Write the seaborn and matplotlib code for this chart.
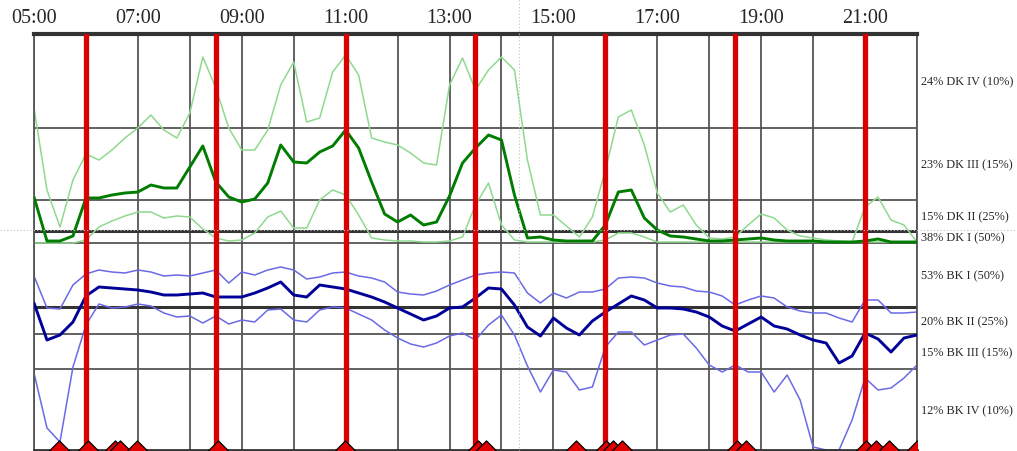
import numpy as np
import matplotlib
matplotlib.use("Agg")
import matplotlib.pyplot as plt
import seaborn as sns
from matplotlib.lines import Line2D

# time grid (hours of day, 15-minute steps from 05:00 to 22:00)
hours = np.arange(5, 22.01, 0.25)

# DK group: upper band, mean, lower band (level units, 0 = bottom of chart)
dk_upper = [342, 260, 223, 270, 296, 290, 300, 312, 322, 335,
            320, 312, 337, 393, 362, 322, 300, 300, 320, 365,
            388, 328, 332, 378, 395, 375, 312, 308, 305, 297,
            287, 285, 365, 392, 360, 380, 393, 380, 290, 235,
            235, 224, 213, 233, 280, 333, 340, 305, 257, 238,
            245, 225, 212, 211, 213, 225, 236, 232, 220, 214,
            212, 210, 209, 208, 243, 253, 230, 225, 208]
dk_mid = [253, 209, 209, 214, 252, 252, 255, 257, 258, 265,
          262, 262, 283, 304, 268, 253, 248, 251, 267, 305,
          288, 287, 298, 304, 320, 302, 268, 236, 228, 235,
          225, 228, 254, 287, 302, 315, 310, 255, 212, 213,
          210, 209, 209, 209, 225, 258, 260, 232, 220, 214,
          213, 211, 209, 209, 210, 211, 212, 210, 209, 209,
          209, 208, 208, 208, 209, 211, 208, 208, 208]
dk_lower = [207, 207, 207, 207, 210, 223, 229, 234, 238, 238,
            232, 234, 233, 221, 212, 209, 210, 217, 233, 239,
            222, 222, 250, 260, 255, 235, 212, 210, 209, 209,
            208, 208, 209, 213, 245, 267, 225, 210, 208, 208,
            208, 208, 208, 208, 210, 217, 217, 213, 208, 208,
            208, 208, 208, 208, 208, 208, 208, 208, 208, 208,
            208, 208, 208, 208, 208, 208, 208, 208, 208]

# BK group
bk_upper = [174, 142, 141, 165, 176, 180, 178, 177, 180, 178,
            174, 175, 174, 177, 180, 167, 178, 175, 180, 183,
            180, 171, 173, 177, 178, 174, 172, 168, 158, 156,
            155, 159, 165, 170, 175, 177, 178, 177, 157, 147,
            157, 152, 158, 158, 161, 172, 173, 172, 167, 164,
            163, 159, 158, 154, 145, 150, 154, 152, 143, 139,
            137, 137, 132, 128, 150, 150, 137, 137, 138]
bk_mid = [147, 110, 115, 128, 154, 163, 162, 161, 160, 158,
          155, 155, 156, 157, 153, 153, 153, 157, 162, 168,
          155, 153, 165, 163, 161, 157, 153, 148, 142, 136,
          130, 134, 142, 143, 152, 162, 161, 145, 123, 114,
          132, 122, 115, 129, 138, 146, 154, 150, 142, 142,
          141, 138, 133, 124, 119, 126, 133, 124, 121, 115,
          110, 107, 87, 94, 117, 111, 98, 112, 115]
bk_lower = [77, 22, 8, 83, 125, 146, 142, 143, 146, 144,
            137, 133, 134, 127, 134, 126, 130, 128, 140, 141,
            130, 128, 140, 143, 142, 136, 130, 120, 112, 106,
            103, 107, 114, 117, 110, 125, 135, 115, 84, 58,
            80, 78, 60, 63, 103, 118, 118, 105, 110, 115,
            116, 102, 85, 78, 85, 78, 78, 58, 75, 50,
            3, 0, 0, 30, 72, 60, 62, 72, 85]

# band boundaries and labels (bottom to top)
band_edges = [0, 81, 116, 143, 207, 219, 250, 322, 416]
band_labels = ["12% BK IV (10%)", "15% BK III (15%)", "20% BK II (25%)", "53% BK I (50%)",
               "38% DK I (50%)", "15% DK II (25%)", "23% DK III (15%)", "24% DK IV (10%)"]
thick_edges = [143, 219]

shift_hours = [6, 8.5, 11, 13.5, 16, 18.5, 21]
event_hours = [5.48, 6.04, 6.56, 6.66, 6.98, 8.54, 10.99, 13.55, 13.70, 15.43,
               16.01, 16.15, 16.32, 18.53, 18.71, 21.02, 21.21, 21.46, 22.0]

sns.set_style("white")
plt.rcParams['font.family'] = ['Liberation Serif', 'DejaVu Serif']

fig = plt.figure(figsize=(10.17, 4.51), dpi=100)
ax = fig.add_axes([34 / 1017, 1 / 451, 883 / 1017, 416 / 451])

# grid
for h in range(5, 23):
    ax.axvline(h, color='#555555', lw=1.3, zorder=1)
for e in band_edges[1:-1]:
    if e in thick_edges:
        ax.axhline(e, color='#333333', lw=2.2, zorder=1)
    else:
        ax.axhline(e, color='#555555', lw=1.3, zorder=1)

# series
light_green = '#8fd98f'
dark_green = '#007d00'
light_blue = '#6a6ae6'
dark_blue = '#000099'
sns.lineplot(x=hours, y=dk_upper, color=light_green, lw=1.1, ax=ax, zorder=2)
sns.lineplot(x=hours, y=dk_lower, color=light_green, lw=1.1, ax=ax, zorder=2)
sns.lineplot(x=hours, y=dk_mid, color=dark_green, lw=2.1, ax=ax, zorder=3)
sns.lineplot(x=hours, y=bk_upper, color=light_blue, lw=1.1, ax=ax, zorder=2)
sns.lineplot(x=hours, y=bk_lower, color=light_blue, lw=1.1, ax=ax, zorder=2)
sns.lineplot(x=hours, y=bk_mid, color=dark_blue, lw=2.1, ax=ax, zorder=3)

# shift change lines
for h in shift_hours:
    ax.axvline(h, color='#d80000', lw=3.8, zorder=5)

# event markers along the bottom edge
sns.scatterplot(x=event_hours, y=[0] * len(event_hours), marker='D', s=95,
                color='#e00000', edgecolor='black', linewidth=0.9, zorder=6, ax=ax)

ax.set_xlim(5, 22)
ax.set_ylim(0, 416)

ax.xaxis.tick_top()
ax.set_xticks(range(5, 22, 2))
ax.set_xticklabels([f"{h:02d}:00" for h in range(5, 22, 2)], fontsize=14.5)
ax.tick_params(axis='x', length=0, pad=4)

centers = [(band_edges[i] + band_edges[i + 1]) / 2 for i in range(len(band_labels))]
ax.yaxis.tick_right()
ax.set_yticks(centers)
ax.set_yticklabels(band_labels, fontsize=8.8)
ax.tick_params(axis='y', length=0, pad=3)
ax.set_xlabel('')
ax.set_ylabel('')

for side in ['left', 'right']:
    ax.spines[side].set_color('#555555')
    ax.spines[side].set_linewidth(1.3)
ax.spines['top'].set_color('#333333')
ax.spines['top'].set_linewidth(3)
ax.spines['bottom'].set_color('#333333')
ax.spines['bottom'].set_linewidth(2)

# faint dotted crosshair
fig.add_artist(Line2D([0, 1], [1 - 230 / 451] * 2, transform=fig.transFigure,
                      color='#c0c0c0', ls=(0, (1, 2)), lw=0.8, zorder=10))
fig.add_artist(Line2D([519 / 1017] * 2, [0, 1], transform=fig.transFigure,
                      color='#c0c0c0', ls=(0, (1, 2)), lw=0.8, zorder=10))

fig.savefig('out.png', dpi=100, facecolor='white')
